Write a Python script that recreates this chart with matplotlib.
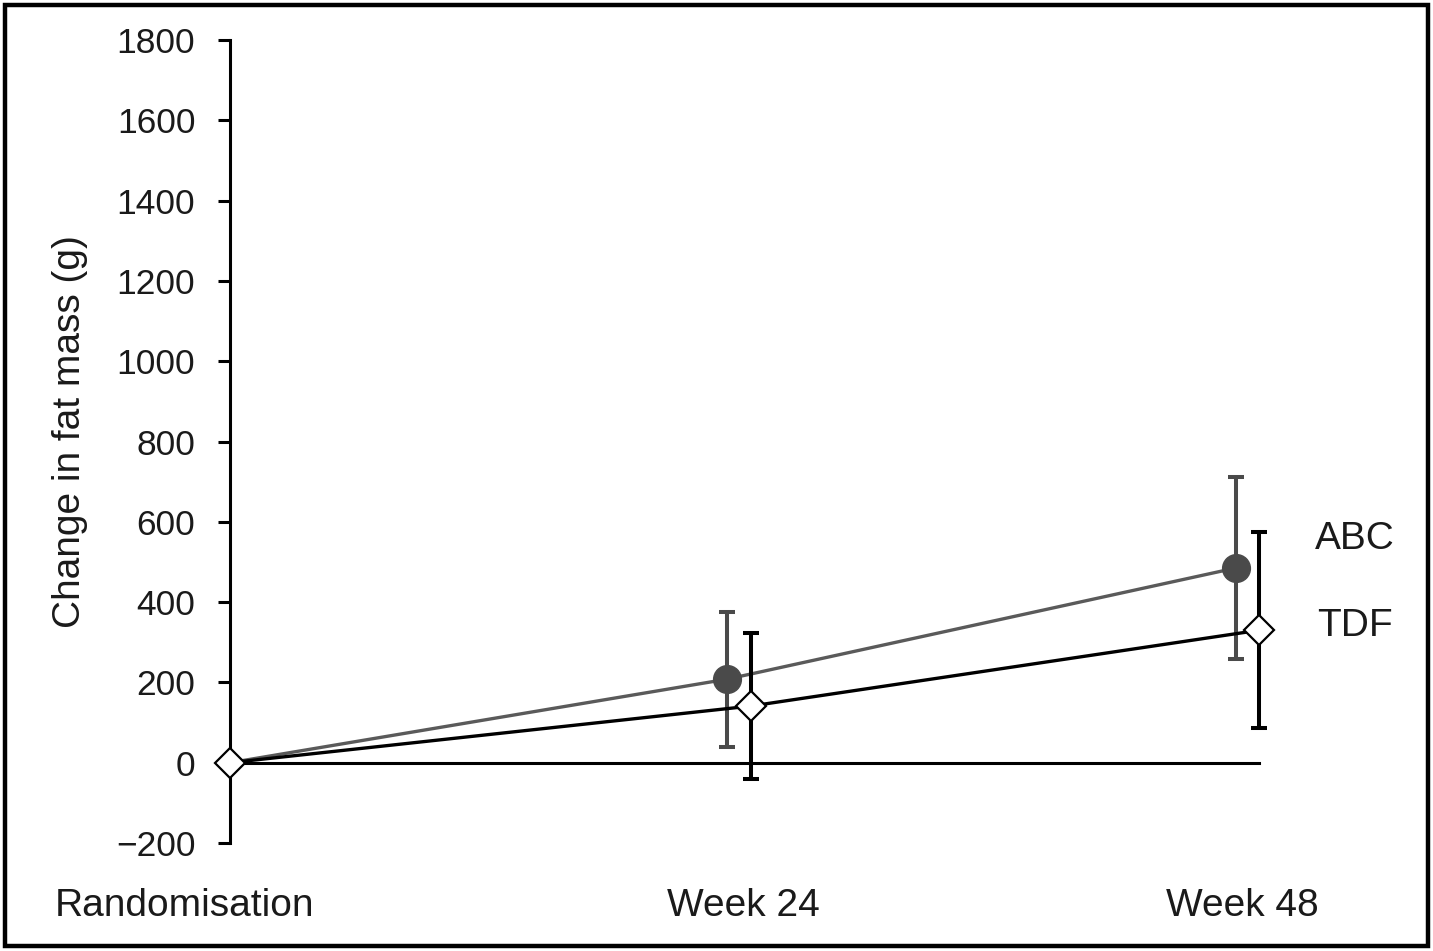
import numpy as np
import matplotlib.pyplot as plt
from matplotlib.patches import Rectangle

plt.rcParams['font.family'] = ['Liberation Sans', 'DejaVu Sans']

# Change in fat mass (g), mean with error bar half-widths
weeks = [0, 24, 48]
period_labels = ['Randomisation', 'Week 24', 'Week 48']
abc_mean = [0, 208, 485]
abc_err = [0, 168, 227]
tdf_mean = [0, 141, 330]
tdf_err = [0, 182, 244]
y_ticks = [-200, 0, 200, 400, 600, 800, 1000, 1200, 1400, 1600, 1800]

ABC_COLOR = '#4a4a4a'
TEXT_COLOR = '#1a1a1a'


def main():
    fig = plt.figure(figsize=(14.33, 9.51), dpi=100)
    ax = fig.add_axes([230 / 1433, 1 - 843 / 951, 1070 / 1433, 803 / 951])

    # side-by-side offset so the two groups' bars don't overlap
    dodge = np.array([0, 0.554, 0.554])
    x_abc = np.array(weeks) - dodge
    x_tdf = np.array(weeks) + dodge

    ax.plot([0, x_tdf[-1]], [0, 0], color='black', lw=2.2, zorder=1, clip_on=False)

    ax.errorbar(x_abc[1:], abc_mean[1:], yerr=abc_err[1:], fmt='none',
                ecolor=ABC_COLOR, elinewidth=2.9, capsize=5.5, capthick=2.9,
                zorder=2, clip_on=False)
    ax.plot(x_abc, abc_mean, color='#5a5a5a', lw=2.4, zorder=2, clip_on=False)
    ax.plot(x_abc[1:], abc_mean[1:], 'o', color=ABC_COLOR, ms=20, zorder=3,
            clip_on=False)

    ax.errorbar(x_tdf[1:], tdf_mean[1:], yerr=tdf_err[1:], fmt='none',
                ecolor='black', elinewidth=2.9, capsize=5.5, capthick=2.9,
                zorder=4, clip_on=False)
    ax.plot(x_tdf, tdf_mean, color='black', lw=2.4, zorder=4, clip_on=False)
    ax.plot(x_tdf, tdf_mean, 'D', mfc='white', mec='black', mew=1.6, ms=15,
            zorder=5, clip_on=False)

    ax.set_xlim(0, 50.47)
    ax.set_ylim(-200, 1800)
    ax.set_yticks(y_ticks)
    ax.set_yticklabels(['\u2212200' if v < 0 else str(v) for v in y_ticks])
    ax.set_xticks([])

    for side in ['top', 'right', 'bottom']:
        ax.spines[side].set_visible(False)
    ax.spines['left'].set_linewidth(2.2)
    ax.tick_params(axis='y', direction='out', length=9, width=2.2, pad=16,
                   labelsize=25.5, labelcolor=TEXT_COLOR)

    ax.set_ylabel('Change in fat mass (g)', fontsize=28, color=TEXT_COLOR)
    ax.yaxis.set_label_coords(-0.133, 0.512)

    # period names under the plot
    label_x = [185, 743, 1242]
    for lx, txt in zip(label_x, period_labels):
        fig.text(lx / 1433, 1 - 906 / 951, txt, ha='center', va='center',
                 fontsize=28, color=TEXT_COLOR)

    fig.text(1315 / 1433, 1 - 539 / 951, 'ABC', ha='left', va='center',
             fontsize=28, color=TEXT_COLOR)
    fig.text(1317 / 1433, 1 - 626 / 951, 'TDF', ha='left', va='center',
             fontsize=28, color=TEXT_COLOR)

    fig.patches.append(Rectangle((5 / 1433, 5 / 951), 1 - 10 / 1433, 1 - 10 / 951,
                                 transform=fig.transFigure, fill=False,
                                 edgecolor='black', lw=3.2))

    fig.savefig('out.png', dpi=100)


if __name__ == '__main__':
    main()
